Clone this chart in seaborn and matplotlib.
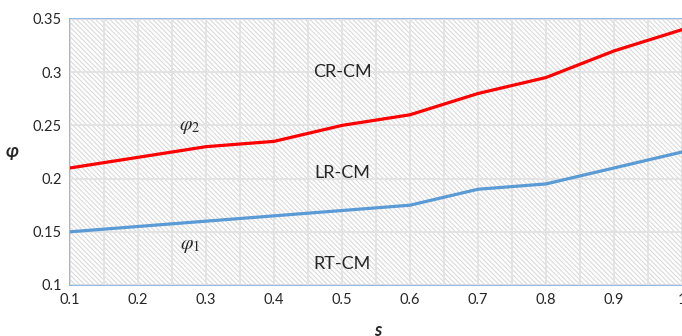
import matplotlib
matplotlib.use('Agg')
import matplotlib.pyplot as plt
import seaborn as sns
import pandas as pd
from matplotlib.patches import Rectangle
from matplotlib.ticker import MultipleLocator

s_values = [0.1, 0.2, 0.3, 0.4, 0.5, 0.6, 0.7, 0.8, 0.9, 1.0]
phi2 = [0.21, 0.22, 0.23, 0.235, 0.25, 0.26, 0.28, 0.295, 0.32, 0.34]
phi1 = [0.15, 0.155, 0.16, 0.165, 0.17, 0.175, 0.19, 0.195, 0.21, 0.225]
x_ticks = [0.1, 0.2, 0.3, 0.4, 0.5, 0.6, 0.7, 0.8, 0.9, 1.0]
x_tick_labels = ['0.1', '0.2', '0.3', '0.4', '0.5', '0.6', '0.7', '0.8', '0.9', '1']
y_ticks = [0.1, 0.15, 0.2, 0.25, 0.3, 0.35]
y_tick_labels = ['0.1', '0.15', '0.2', '0.25', '0.3', '0.35']

sns.set_style('white')
plt.rcParams['font.family'] = ['Lato', 'DejaVu Sans']
plt.rcParams['mathtext.fontset'] = 'stix'
plt.rcParams['hatch.linewidth'] = 0.8
plt.rcParams['hatch.color'] = '#dadada'

df = pd.DataFrame({'s': s_values, 'phi1': phi1, 'phi2': phi2})

fig = plt.figure(figsize=(6.82, 3.36), dpi=100)
ax = fig.add_axes([70 / 682, 1 - 285 / 336, 1 - 70 / 682, (285 - 19) / 336])

ax.set_xlim(0.1, 1.0)
ax.set_ylim(0.1, 0.35)

# hatched background
ax.add_patch(Rectangle((0, 0), 1, 1, transform=ax.transAxes, facecolor='white',
                       hatch='\\\\\\\\\\\\\\', edgecolor='#dadada', linewidth=0, zorder=0))

ax.xaxis.set_minor_locator(MultipleLocator(0.05))
ax.grid(True, which='both', color='#e2e2e2', linewidth=1.3, zorder=1)
ax.set_axisbelow(False)

sns.lineplot(data=df, x='s', y='phi2', ax=ax, color='#ff0000', linewidth=2.3, zorder=3)
sns.lineplot(data=df, x='s', y='phi1', ax=ax, color='#5b9bd5', linewidth=2.3, zorder=3)

ax.set_xticks(x_ticks)
ax.set_xticklabels(x_tick_labels, fontsize=10.5)
ax.set_yticks(y_ticks)
ax.set_yticklabels(y_tick_labels, fontsize=10.5)
ax.tick_params(axis='both', length=0, pad=6)
ax.set_xlabel('')
ax.set_ylabel('')

for side in ['left', 'bottom', 'top']:
    ax.spines[side].set_color('#7aaee0')
    ax.spines[side].set_linewidth(1.2)
ax.spines['right'].set_visible(False)

ax.text(0.5, 0.3, 'CR-CM', fontsize=13, ha='center', va='center', zorder=4)
ax.text(0.5, 0.205, 'LR-CM', fontsize=13, ha='center', va='center', zorder=4)
ax.text(0.5, 0.12, 'RT-CM', fontsize=13, ha='center', va='center', zorder=4)
ax.text(0.276, 0.2476, r'$\varphi_2$', fontsize=14.5, ha='center', va='center', zorder=4)
ax.text(0.276, 0.1366, r'$\varphi_1$', fontsize=14.5, ha='center', va='center', zorder=4)

# axis titles sit partly outside the canvas, as in the source image
fig.text(12 / 682, 1 - 152 / 336, 'φ', fontsize=13,
         fontweight='bold', fontstyle='italic', ha='center', va='center')
fig.text(378 / 682, 1 - 330 / 336, 's', fontsize=13, fontweight='bold',
         fontstyle='italic', ha='center', va='center')

fig.savefig('out.png', dpi=100)
